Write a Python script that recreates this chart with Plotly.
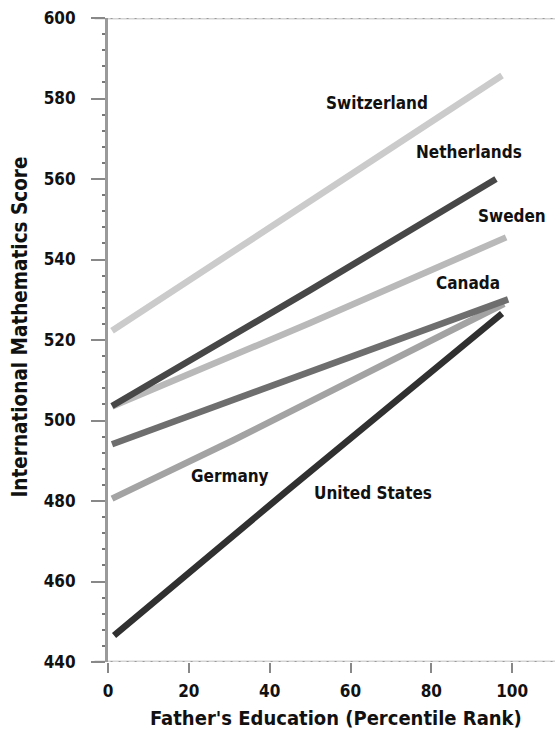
import plotly.graph_objects as go

# ---- data ----
countries = ["Germany", "Sweden", "Canada", "Netherlands", "United States", "Switzerland"]
germany_x = [1, 31, 98]
germany_y = [480.6, 495.1, 529.0]
sweden_x = [1, 50, 98.5]
sweden_y = [503.5, 524.2, 545.5]
canada_x = [1, 50, 99]
canada_y = [494.1, 511.9, 530.1]
netherlands_x = [1, 50, 96]
netherlands_y = [503.6, 532.4, 560.0]
us_x = [1.5, 44, 97.5]
us_y = [446.6, 482.3, 526.6]
switzerland_x = [1, 37, 97.5]
switzerland_y = [522.3, 546.1, 585.7]

x_ticks = [0, 20, 40, 60, 80, 100]
y_ticks = [440, 460, 480, 500, 520, 540, 560, 580, 600]

series = {
    "Germany": (germany_x, germany_y),
    "Sweden": (sweden_x, sweden_y),
    "Canada": (canada_x, canada_y),
    "Netherlands": (netherlands_x, netherlands_y),
    "United States": (us_x, us_y),
    "Switzerland": (switzerland_x, switzerland_y),
}

colors = {
    "Germany": "#a3a3a3",
    "Sweden": "#b9b9b9",
    "Canada": "#6e6e6e",
    "Netherlands": "#474747",
    "United States": "#303030",
    "Switzerland": "#cbcbcb",
}

# label placement (data coordinates)
label_pos = {
    "Switzerland": (66.6, 578.9),
    "Netherlands": (89.3, 566.6),
    "Sweden": (99.9, 550.9),
    "Canada": (89.1, 534.1),
    "Germany": (30.3, 486.2),
    "United States": (65.6, 482.0),
}

FONT = "DejaVu Sans Condensed, DejaVu Sans, sans-serif"

fig = go.Figure()
for name in countries:
    xs, ys = series[name]
    fig.add_trace(go.Scatter(
        x=xs, y=ys, mode="lines", name=name,
        line=dict(color=colors[name], width=6.5),
        showlegend=False, hoverinfo="skip",
    ))

for name, (lx, ly) in label_pos.items():
    fig.add_annotation(x=lx, y=ly, text=f"<b>{name}</b>", showarrow=False,
                       font=dict(family=FONT, size=17, color="#111111"),
                       xanchor="center", yanchor="middle")

# dotted top and bottom frame lines
for yv in (600, 440):
    fig.add_shape(type="line", xref="paper", x0=-0.03, x1=1, yref="y", y0=yv, y1=yv,
                  line=dict(color="#d4d4d4", width=3), layer="below")
    fig.add_shape(type="line", xref="paper", x0=-0.03, x1=1, yref="y", y0=yv, y1=yv,
                  line=dict(color="#888888", width=1.5, dash="2px,6px"), layer="below")

# axis titles
fig.add_annotation(xref="paper", yref="paper", x=0.5105, y=-0.0875,
                   text="<b>Father's Education (Percentile Rank)</b>", showarrow=False,
                   font=dict(family=FONT, size=20, color="#111111"),
                   xanchor="center", yanchor="middle")
fig.add_annotation(xref="paper", yref="paper", x=-0.196, y=0.52,
                   text="<b>International Mathematics Score</b>", showarrow=False,
                   textangle=-90,
                   font=dict(family=FONT, size=20.5, color="#111111"),
                   xanchor="center", yanchor="middle")

fig.update_xaxes(
    range=[0, 110.6], tickvals=x_ticks, ticktext=[f"<b>{v}</b>" for v in x_ticks],
    showgrid=False, zeroline=False, showline=False,
    ticks="outside", ticklen=10, tickwidth=2, tickcolor="#888888",
    ticklabelstandoff=4,
    tickfont=dict(family=FONT, size=17, color="#111111"),
)
fig.update_yaxes(
    range=[440, 600], tickvals=y_ticks, ticktext=[f"<b>{v}</b>" for v in y_ticks],
    showgrid=False, zeroline=False,
    showline=True, linecolor="#9a9a9a", linewidth=3,
    ticks="outside", ticklen=14, tickwidth=2, tickcolor="#888888",
    ticklabelstandoff=12,
    tickfont=dict(family=FONT, size=17, color="#111111"),
    minor=dict(dtick=4, ticks="outside", ticklen=3, tickwidth=2, tickcolor="#777777"),
)

fig.update_layout(
    width=555, height=730,
    margin=dict(l=108, r=0, t=17.5, b=68.3),
    paper_bgcolor="white", plot_bgcolor="white",
)

fig.write_html("out.html", config={"displayModeBar": False},
               post_script="document.body.style.margin='0';")
